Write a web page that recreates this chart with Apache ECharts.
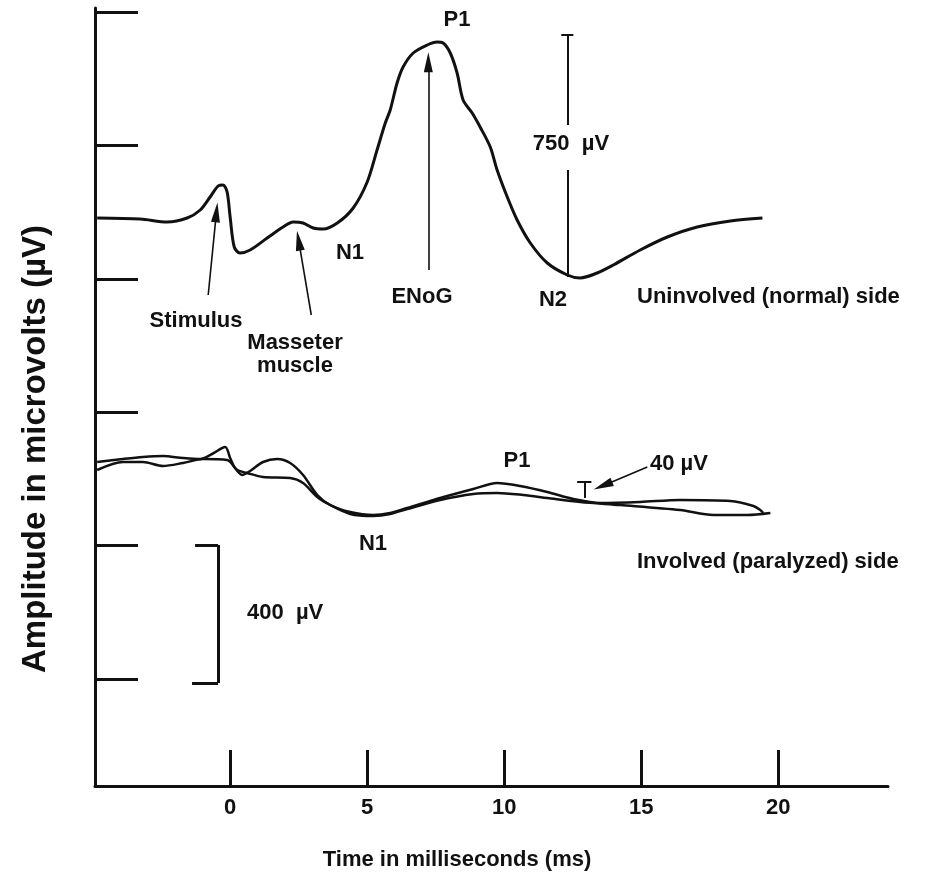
<!DOCTYPE html>
<html>
<head>
<meta charset="utf-8">
<script src="https://cdn.jsdelivr.net/npm/echarts@6/dist/echarts.min.js"></script>
<style>
  html, body { margin: 0; padding: 0; background: #fff; }
  #chart { width: 926px; height: 881px; }
</style>
</head>
<body>
<div id="chart"></div>
<script>
// 时间 (ms) / 振幅 (µV)
const xTicks = [0, 5, 10, 15, 20];
const yTicks = [0, 400, 800, 1200, 1600, 2000];

// Uninvolved (normal) side
const normalSide = [
  [-4.85, 1383], [-3.28, 1380], [-2.30, 1371], [-1.57, 1383], [-1.09, 1407],
  [-0.73, 1446], [-0.44, 1479], [-0.26, 1482], [-0.11, 1461], [0.00, 1386],
  [0.15, 1296], [0.36, 1278], [0.73, 1287], [1.35, 1323], [1.93, 1356],
  [2.30, 1371], [2.66, 1368], [3.03, 1353], [3.39, 1350], [3.91, 1368],
  [4.49, 1413], [5.00, 1491], [5.36, 1587], [5.66, 1668], [5.84, 1707],
  [6.09, 1788], [6.31, 1836], [6.68, 1878], [7.19, 1902], [7.55, 1911],
  [7.77, 1908], [8.03, 1878], [8.28, 1818], [8.50, 1737], [8.83, 1698],
  [9.12, 1656], [9.49, 1596], [9.74, 1527], [10.11, 1446], [10.47, 1377],
  [10.95, 1308], [11.57, 1248], [12.30, 1212], [12.77, 1203], [13.39, 1218],
  [13.98, 1242], [14.96, 1287], [15.95, 1326], [17.04, 1356], [18.25, 1374],
  [19.42, 1383]
];

// Involved (paralyzed) side, two traces
const paralyzedA = [
  [-4.85, 651], [-3.91, 660], [-3.18, 666], [-2.45, 669], [-1.72, 663],
  [-1.09, 660], [-0.66, 675], [-0.18, 696], [0.00, 663], [0.18, 633],
  [0.44, 612], [0.73, 624], [1.20, 651], [1.72, 660], [2.19, 648],
  [2.66, 612], [3.18, 552], [3.65, 522], [4.38, 501], [5.22, 492],
  [5.84, 498], [6.46, 513], [7.66, 543], [8.87, 570], [9.74, 588],
  [10.58, 579], [11.57, 561], [12.52, 540], [13.50, 528], [14.96, 531],
  [16.42, 537], [18.25, 534], [19.09, 519], [19.34, 507], [19.45, 498]
];
const paralyzedB = [
  [-4.85, 627], [-3.91, 651], [-3.18, 651], [-2.45, 639], [-1.72, 648],
  [-0.99, 660], [-0.11, 657], [0.26, 627], [0.62, 618], [1.20, 606],
  [2.19, 603], [2.66, 588], [3.18, 546], [3.65, 522], [4.38, 495],
  [5.22, 489], [5.84, 495], [6.46, 510], [7.66, 537], [8.87, 555],
  [9.74, 558], [10.69, 552], [11.57, 543], [12.77, 531], [14.23, 522],
  [16.42, 507], [17.63, 492], [18.87, 492], [19.71, 498]
];

const chart = echarts.init(document.getElementById('chart'));

const ink = '#111';
const font = 'Liberation Sans, Arial, sans-serif';

// 线段 / 箭头
const seg = (a, b, w) => [
  { coord: a, symbol: 'none', lineStyle: { width: w || 2, color: ink, type: 'solid' } },
  { coord: b, symbol: 'none' }
];
const arrow = (a, b) => [
  { coord: a, symbol: 'none', lineStyle: { width: 1.6, color: ink, type: 'solid' } },
  { coord: b, symbol: 'triangle', symbolSize: [9, 20] }
];

const label = (text, x, y, align) => ({
  type: 'text', x: x, y: y,
  style: {
    text: text, font: 'bold 22px ' + font, fill: ink,
    align: align || 'center', verticalAlign: 'middle'
  }
});

const option = {
  animation: false,
  grid: { left: 95, right: 38, top: 8, bottom: 95 },
  xAxis: {
    type: 'value', min: -4.93, max: 24.0,
    axisLine: { onZero: false, lineStyle: { color: ink, width: 3 } },
    axisTick: { inside: true, length: 36, customValues: xTicks, lineStyle: { color: ink, width: 3 } },
    axisLabel: { customValues: xTicks, margin: 11, fontSize: 22, fontWeight: 'bold', color: ink, fontFamily: font },
    splitLine: { show: false }
  },
  yAxis: {
    type: 'value', min: -321, max: 2013,
    axisLine: { show: true, onZero: false, lineStyle: { color: ink, width: 3 } },
    axisTick: { show: true, inside: true, length: 43, customValues: yTicks, lineStyle: { color: ink, width: 3 } },
    axisLabel: { show: false },
    splitLine: { show: false }
  },
  series: [
    {
      name: 'Uninvolved (normal) side', type: 'line', data: normalSide,
      smooth: 0.3, showSymbol: false, lineStyle: { color: ink, width: 3 },
      markLine: {
        silent: true, animation: false, label: { show: false },
        lineStyle: { type: 'solid', color: ink, width: 2 },
        data: [
          arrow([-0.80, 1152], [-0.50, 1400]),   // Stimulus
          arrow([2.96, 1092], [2.50, 1315]),     // Masseter muscle
          arrow([7.23, 1227], [7.23, 1850]),     // ENoG
          arrow([15.22, 636], [13.60, 580]),     // 40 µV
          // 750 µV bar
          seg([12.30, 1932], [12.30, 1662]),
          seg([12.30, 1527], [12.30, 1206]),
          seg([12.08, 1932], [12.52, 1932]),
          // 40 µV bar
          seg([12.92, 591], [12.92, 543]),
          seg([12.66, 591], [13.18, 591]),
          // 400 µV bracket
          seg([-1.28, 402], [-0.44, 402], 3),
          seg([-0.44, 402], [-0.44, -12], 3),
          seg([-1.39, -12], [-0.44, -12], 3)
        ]
      }
    },
    {
      name: 'Involved A', type: 'line', data: paralyzedA,
      smooth: 0.3, showSymbol: false, lineStyle: { color: ink, width: 2.5 }
    },
    {
      name: 'Involved B', type: 'line', data: paralyzedB,
      smooth: 0.3, showSymbol: false, lineStyle: { color: ink, width: 2.5 }
    }
  ],
  graphic: [
    label('P1', 457, 20),
    label('750  µV', 571, 144),
    label('N1', 350, 253),
    label('Stimulus', 196, 321),
    label('Masseter', 295, 343),
    label('muscle', 295, 366),
    label('ENoG', 422, 297),
    label('N2', 553, 300),
    label('Uninvolved (normal) side', 637, 297, 'left'),
    label('P1', 517, 461),
    label('40 µV', 650, 464, 'left'),
    label('N1', 373, 544),
    label('Involved (paralyzed) side', 637, 562, 'left'),
    label('400  µV', 247, 613, 'left'),
    label('Time in milliseconds (ms)', 457, 860),
    {
      type: 'text', x: 36, y: 449, rotation: Math.PI / 2,
      style: {
        text: 'Amplitude in microvolts (µV)', font: 'bold 33px ' + font, fill: ink,
        align: 'center', verticalAlign: 'middle'
      }
    }
  ]
};

chart.setOption(option);
</script>
</body>
</html>
